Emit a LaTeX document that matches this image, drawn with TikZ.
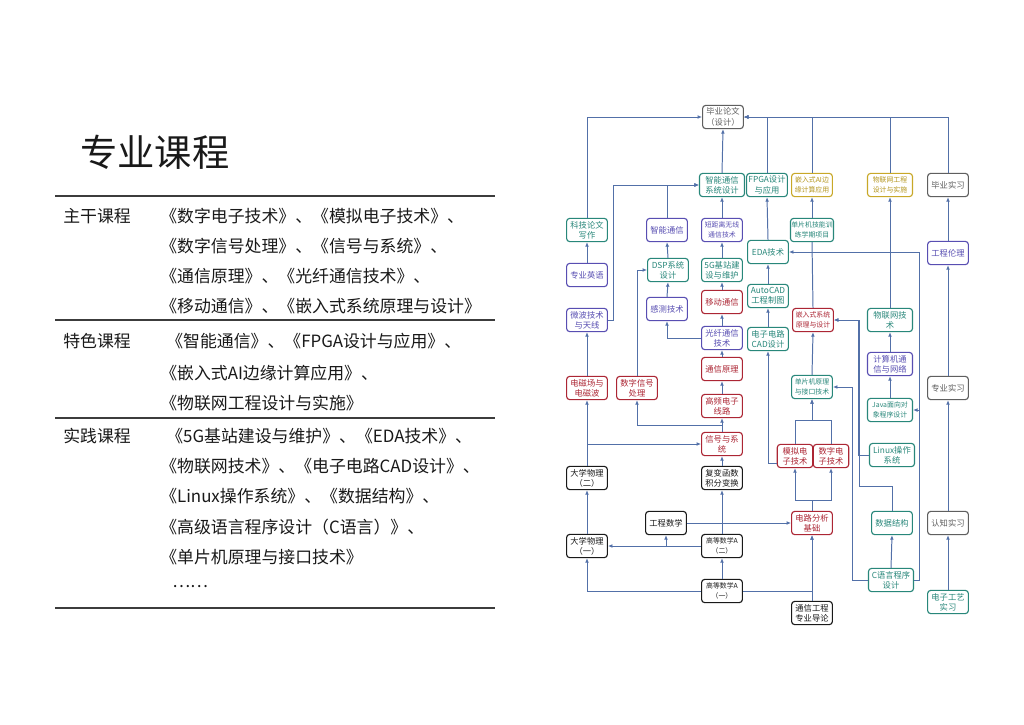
\documentclass[tikz,border=0pt]{standalone}
\usepackage{fontspec}
\setmainfont{Noto Sans CJK SC}
\usetikzlibrary{arrows.meta}
\definecolor{cteal}{RGB}{40,135,122}
\definecolor{cpur}{RGB}{88,78,178}
\definecolor{cred}{RGB}{172,38,52}
\definecolor{cgold}{RGB}{200,168,40}
\definecolor{cgold2}{RGB}{180,150,30}
\definecolor{cgray}{RGB}{95,95,95}
\definecolor{cblack}{RGB}{25,25,25}
\definecolor{carrow}{RGB}{82,112,168}
\tikzset{
  bx/.style={draw=#1, text=#1, rounded corners=2.2pt, line width=0.8pt,
    minimum width=29pt, minimum height=16.5pt, inner sep=0.6pt, align=center,
    font=\fontsize{5.9}{7.3}\selectfont, fill=white},
  tl/.style={bx=cteal},
  pu/.style={bx=cpur},
  rd/.style={bx=cred},
  gd/.style={bx=cgold, text=cgold2},
  gy/.style={bx=cgray},
  bk/.style={bx=cblack},
  wide/.style={minimum width=32pt},
  narrow/.style={minimum width=25.2pt},
  tiny/.style={font=\fontsize{4.9}{6.8}\selectfont},
  ar/.style={-{Latex[length=3.2pt,width=2.7pt]}, draw=carrow, line width=0.7pt},
  ln/.style={draw=carrow, line width=0.7pt},
  rowtxt/.style={anchor=west, inner sep=0pt, font=\fontsize{12}{14}\selectfont, text=cblack},
  rule/.style={draw=cblack!85, line width=0.9pt}
}
\begin{document}
\begin{tikzpicture}[x=0.025cm,y=-0.025cm]
\useasboundingbox (0,0) rectangle (1024,724);
\fill[white] (0,0) rectangle (1024,724);

% ---------- left part ----------
\node[anchor=west, inner sep=0pt, font=\fontsize{26.5}{30}\selectfont, text=cblack] (title) at (80,152) {专业课程};
\draw[rule] (55,196) -- (495,196);
\draw[rule] (55,320) -- (495,320);
\draw[rule] (55,418) -- (495,418);
\draw[rule] (55,608) -- (495,608);

\node[rowtxt] (l1) at (63,216) {主干课程};
\node[rowtxt] (r1) at (160,216) {《数字电子技术》、《模拟电子技术》、};
\node[rowtxt] (r2) at (160,246) {《数字信号处理》、《信号与系统》、};
\node[rowtxt] (r3) at (160,276) {《通信原理》、《光纤通信技术》、};
\node[rowtxt] (r4) at (160,306) {《移动通信》、《嵌入式系统原理与设计》};
\node[rowtxt] (l2) at (63,341) {特色课程};
\node[rowtxt] (r5) at (166,341) {《智能通信》、《FPGA设计与应用》、};
\node[rowtxt] (r6) at (160,373) {《嵌入式AI边缘计算应用》、};
\node[rowtxt] (r7) at (160,403) {《物联网工程设计与实施》};
\node[rowtxt] (l3) at (63,436) {实践课程};
\node[rowtxt] (r8) at (166,436) {《5G基站建设与维护》、《EDA技术》、};
\node[rowtxt] (r9) at (160,466) {《物联网技术》、《电子电路CAD设计》、};
\node[rowtxt] (r10) at (160,496) {《Linux操作系统》、《数据结构》、};
\node[rowtxt] (r11) at (160,527) {《高级语言程序设计（C语言）》、};
\node[rowtxt] (r12) at (160,557) {《单片机原理与接口技术》};
\node[rowtxt] (r13) at (172,587) {……};

% ---------- nodes ----------
\node[gy] (bylw) at (723,117) {毕业论文\\（设计）};
\node[tl,wide] (znxt) at (722,185) {智能通信\\系统设计};
\node[tl] (fpga) at (767,185) {FPGA设计\\与应用};
\node[gd,tiny] (ai) at (812,185) {嵌入式AI边\\缘计算应用};
\node[gd,wide,tiny] (wlwgc) at (890,185) {物联网工程\\设计与实施};
\node[gy] (bysx) at (948,185) {毕业实习};

\node[tl] (kjlw) at (587,230) {科技论文\\写作};
\node[pu] (zntx) at (667,230) {智能通信};
\node[pu,tiny] (dj) at (722,230) {短距离无线\\通信技术};
\node[tl,tiny] (dpjn) at (812,230) {单片机技能训\\练学期项目};
\node[tl] (eda) at (768,252) {EDA技术};
\node[pu] (gclj) at (948,253) {工程伦理};

\node[pu] (zyyy) at (587,275) {专业英语};
\node[tl] (dsp) at (668,270) {DSP系统\\设计};
\node[tl] (g5) at (722,270) {5G基站建\\设与维护};
\node[pu] (cs) at (667,309) {感测技术};
\node[rd] (yd) at (722,302) {移动通信};
\node[tl] (autocad) at (768,296) {AutoCAD\\工程制图};

\node[pu] (wb) at (587,320) {微波技术\\与天线};
\node[pu] (gx) at (722,338) {光纤通信\\技术};
\node[tl] (cad) at (768,339) {电子电路\\CAD设计};
\node[rd,tiny] (qrs) at (813,320) {嵌入式系统\\原理与设计};
\node[tl,wide] (wlwjs) at (890,320) {物联网技\\术};
\node[pu,wide] (jsj) at (890,364) {计算机通\\信与网络};

\node[rd] (txyl) at (722,369) {通信原理};
\node[rd] (dc) at (587,388) {电磁场与\\电磁波};
\node[rd] (szxh) at (637,388) {数字信号\\处理};
\node[tl,tiny] (dpj) at (812,387) {单片机原理\\与接口技术};
\node[gy] (zysx) at (948,388) {专业实习};

\node[rd] (gp) at (722,406) {高频电子\\线路};
\node[tl,wide,tiny] (java) at (890,410) {Java面向对\\象程序设计};
\node[rd] (xh) at (722,444) {信号与系\\统};
\node[rd,narrow] (mn) at (795,456) {模拟电\\子技术};
\node[rd,narrow] (sz) at (831,456) {数字电\\子技术};
\node[tl,wide] (linux) at (892,455) {Linux操作\\系统};

\node[bk] (dw2) at (587,478) {大学物理\\（二）};
\node[bk] (fb) at (722,478) {复变函数\\积分变换};
\node[bk] (gcsx) at (666,523) {工程数学};
\node[rd] (dl) at (812,523) {电路分析\\基础};
\node[tl] (sjjg) at (892,523) {数据结构};
\node[gy] (rz) at (948,523) {认知实习};

\node[bk] (dw1) at (587,546) {大学物理\\（一）};
\node[bk,tiny] (gs2) at (722,546) {高等数学A\\（二）};
\node[bk,tiny] (gs1) at (722,591) {高等数学A\\（一）};
\node[tl,wide] (cc) at (891,580) {C语言程序\\设计};
\node[tl] (dzgy) at (948,602) {电子工艺\\实习};
\node[bk] (dao) at (812,613) {通信工程\\专业导论};

% ---------- connectors ----------
\draw[ar] (kjlw.north) |- (bylw.west);
\draw[ar] (znxt.north) -- (bylw.south);
\draw[ar] (fpga.north) |- (bylw.east);
\draw[ar] (ai.north) |- (bylw.east);
\draw[ar] (wlwgc.north) |- (bylw.east);
\draw[ar] (bysx.north) |- (bylw.east);

\draw[ar] (wb.east) -- ++(6,0) |- (znxt.west);
\draw[ar] (zntx.north) |- (znxt.west);
\draw[ar] (dj.north) -- (znxt.south);
\draw[ar] (dpjn.north) -- (ai.south);
\draw[ar] (eda.north) -- (fpga.south);
\draw[ar] (gclj.north) -- (bysx.south);
\draw[ar] (wlwjs.north) -- (wlwgc.south);

\draw[ar] (zyyy.north) -- (kjlw.south);
\draw[ar] (dsp.north) -- (zntx.south);
\draw[ar] (g5.north) -- (dj.south);
\draw[ar] (cs.north) -- (dsp.south);
\draw[ar] (yd.north) -- (g5.south);
\draw[ar] (autocad.north) -- (eda.south);
\draw[ar] (dc.north) -- (wb.south);
\draw[ar] (gx.north) -- (yd.south);
\draw[ar] (cad.north) -- (autocad.south);
\draw[ar] (gx.west) -| (cs.south);
\draw[ln] (qrs.north) -- (dpjn.south);
\draw[ar] (dpj.north) -- (qrs.south);
\draw[ar] (jsj.north) -- (wlwjs.south);
\draw[ar] (java.north) -- (jsj.south);

\draw[ar] (txyl.north) -- (gx.south);
\draw[ar] (gp.north) -- (txyl.south);
\draw[ar] (xh.north) -- (gp.south);
\draw[ar] (xh.north) -- ++(0,-6) -| (szxh.south);
\draw[ar] (szxh.north) |- (dsp.west);
\draw[ar] (dw2.north) -- (dc.south);
\draw[ar] (dw2.north) |- (xh.west);
\draw[ar] (fb.north) -- (xh.south);
\draw[ar] (gs2.north) -- (fb.south);
\draw[ar] (gs1.north) -- (gs2.south);
\draw[ar] (dw1.north) -- (dw2.south);
\draw[ar] (gs2.west) -- (dw1.east);
\draw[ar] (gs2.west) -| (gcsx.south);
\draw[ar] (gs1.west) -| (dw1.south);
\draw[ar] (gcsx.east) -- (dl.west);
\draw[ar] (dao.north) -- (dl.south);
\draw[ar] (gs1.east) -| (dl.south);

\draw[ar] (dl.north) -- ++(0,-10) -| (mn.south);
\draw[ar] (dl.north) -- ++(0,-10) -| (sz.south);
\draw[ar] (mn.north) -- ++(0,-23) -| (dpj.south);
\draw[ar] (sz.north) -- ++(0,-23) -| (dpj.south);
\draw[ar] ([yshift=-5]mn.west) -| (cad.south);

\draw[ar] (cc.west) -- ++(-15,0) |- (dpj.east);
\draw[ar] (sjjg.north) -- ++(0,-24) -- ++(-33,0) |- (qrs.east);
\draw[ar] (linux.west) -- ++(-10,0) |- (qrs.east);
\draw[ar] (cc.east) -- ++(5,0) |- (java.east);
\draw[ar] (cc.east) -- ++(5,0) |- (eda.east);
\draw[ar] (cc.north) -- (sjjg.south);

\draw[ar] (dzgy.north) -- (rz.south);
\draw[ar] (rz.north) -- (zysx.south);
\draw[ar] (zysx.north) -- (gclj.south);
\end{tikzpicture}
\end{document}
